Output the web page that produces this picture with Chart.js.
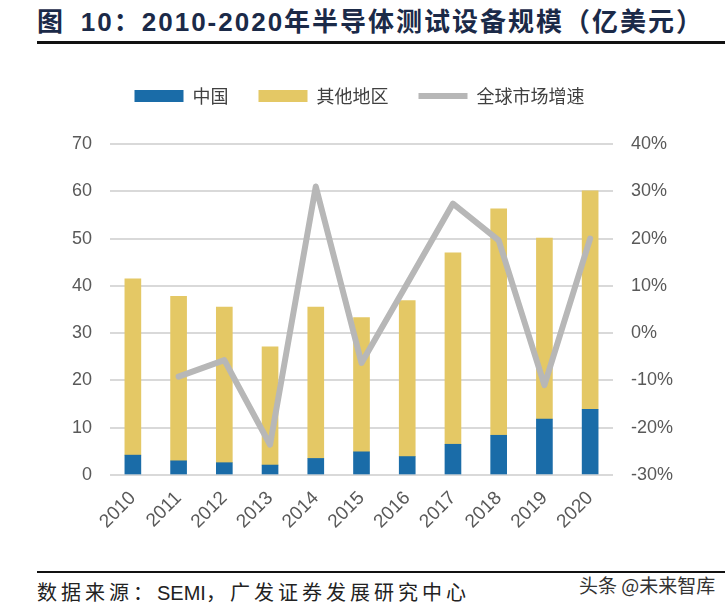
<!DOCTYPE html>
<html>
<head>
<meta charset="utf-8">
<script src="https://cdn.jsdelivr.net/npm/chart.js@4"></script>
<style>
  body { margin: 0; width: 725px; height: 613px; background: #fff; position: relative; overflow: hidden; }
  #title { position: absolute; left: 37px; top: 1px; font-family: "Noto Sans CJK SC", sans-serif; font-weight: bold; font-size: 26px; letter-spacing: 2px; color: #1b2a48; white-space: nowrap; }
  #title .num { font-family: "Liberation Sans", Arial, sans-serif; }
  #topline { position: absolute; left: 37px; right: 0; top: 41px; height: 3px; background: #111; }
  #botline { position: absolute; left: 37px; right: 0; top: 571px; height: 2px; background: #111; }
  #source { position: absolute; left: 37px; top: 577px; font-family: "Noto Sans CJK SC", sans-serif; font-size: 20px; letter-spacing: 4px; color: #222; white-space: nowrap; }
  #source .lat { font-family: "Liberation Sans", Arial, sans-serif; letter-spacing: 0; }
  #mark { position: absolute; left: 579px; top: 571px; font-family: "Noto Sans CJK SC", sans-serif; font-size: 19px; color: #333; white-space: nowrap; }
  #wrap { position: absolute; left: 0; top: 57px; width: 725px; height: 500px; }
</style>
</head>
<body>
<div id="title">图&nbsp;&nbsp;<span class="num">10</span>：<span class="num">2010-2020</span>年半导体测试设备规模（亿美元）</div>
<div id="topline"></div>
<div id="wrap"><canvas id="myChart"></canvas></div>
<div id="botline"></div>
<div id="source">数据来源：<span class="lat">SEMI</span>，广发证券发展研究中心</div>
<div id="mark">头条 @未来智库</div>
<script>
var years = ["2010", "2011", "2012", "2013", "2014", "2015", "2016", "2017", "2018", "2019", "2020"];
var china = [4.2, 3.0, 2.6, 2.1, 3.5, 4.9, 3.9, 6.5, 8.4, 11.8, 13.9];
var others = [37.3, 34.8, 32.9, 25.0, 32.0, 28.4, 33.0, 40.5, 47.9, 38.3, 46.2];
var growth = [null, -9.2, -5.7, -23.6, 31.0, -6.3, 10.5, 27.4, 19.6, -11.0, 20.0];

var tickFont = { family: "'Liberation Sans', Arial, sans-serif", size: 18 };

// push the plot area down below the legend
var legendGap = {
  id: "legendGap",
  beforeInit: function (chart) {
    var fit = chart.legend.fit;
    chart.legend.fit = function () {
      fit.bind(chart.legend)();
      this.height += 29;
    };
  },
};

var ctx = document.getElementById("myChart").getContext("2d");
var chart = new Chart(ctx, {
  type: "bar",
  data: {
    labels: years,
    datasets: [
      {
        label: "中国",
        backgroundColor: "#1a6ca8",
        data: china,
        barThickness: 16,
        pointStyle: "rect",
        order: 1,
        yAxisID: "y",
      },
      {
        label: "其他地区",
        backgroundColor: "#e4c865",
        data: others,
        barThickness: 16,
        pointStyle: "rect",
        order: 1,
        yAxisID: "y",
      },
      {
        type: "line",
        label: "全球市场增速",
        borderColor: "#b7b7b7",
        backgroundColor: "#b7b7b7",
        borderWidth: 6,
        borderCapStyle: "round",
        borderJoinStyle: "round",
        pointRadius: 0,
        pointStyle: "line",
        tension: 0,
        data: growth,
        order: 0,
        yAxisID: "y1",
      },
    ],
  },
  plugins: [legendGap],
  options: {
    responsive: true,
    maintainAspectRatio: false,
    animation: false,
    layout: { padding: { left: 42, right: 48, top: 0, bottom: 20 } },
    plugins: {
      tooltip: { enabled: false },
      legend: {
        position: "top",
        labels: {
          usePointStyle: true,
          pointStyleWidth: 49,
          boxWidth: 49,
          boxHeight: 12,
          padding: 30,
          color: "#404040",
          font: { family: "'Noto Sans CJK SC', sans-serif", size: 18 },
          sort: function (a, b) { return a.datasetIndex - b.datasetIndex; },
        },
      },
    },
    scales: {
      x: {
        stacked: true,
        grid: { display: false },
        border: { display: false },
        ticks: { color: "#595959", font: { family: "'Liberation Sans', Arial, sans-serif", size: 19 }, minRotation: 45, maxRotation: 45, padding: 4 },
      },
      y: {
        stacked: true,
        position: "left",
        min: 0,
        max: 70,
        afterFit: function (axis) { axis.width = 68; },
        ticks: { stepSize: 10, color: "#595959", font: tickFont, padding: 18 },
        grid: { color: "#d9d9d9", lineWidth: 2, drawTicks: false },
        border: { display: false },
      },
      y1: {
        position: "right",
        min: -30,
        max: 40,
        afterFit: function (axis) { axis.width = 64; },
        ticks: {
          stepSize: 10,
          color: "#595959",
          font: tickFont,
          padding: 18,
          callback: function (v) { return v + "%"; },
        },
        grid: { display: false, drawTicks: false },
        border: { display: false },
      },
    },
  },
});
</script>
</body>
</html>
